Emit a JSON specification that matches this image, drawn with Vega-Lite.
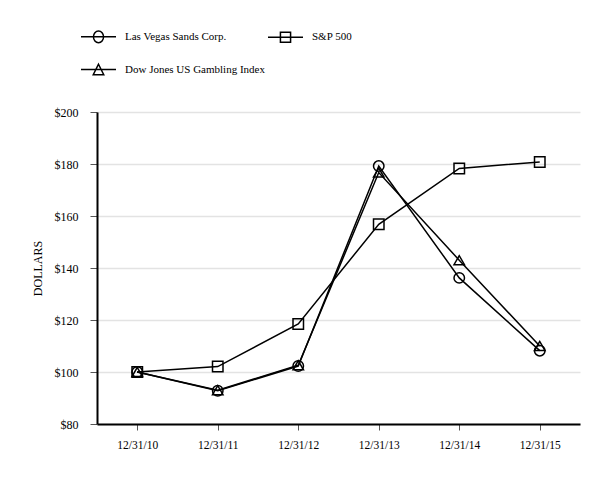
{
  "$schema": "https://vega.github.io/schema/vega-lite/v6.json",
  "autosize": {"type": "none"},
  "width": 483,
  "height": 312,
  "padding": {"left": 97, "top": 112, "right": 34, "bottom": 56},
  "background": "white",
  "config": {
    "view": {"stroke": null},
    "font": "Liberation Serif",
    "legend": {"labelFont": "Liberation Serif"}
  },
  "data": {
    "values": [
      {"date": "12/31/10", "series": "Las Vegas Sands Corp.", "value": 100},
      {"date": "12/31/11", "series": "Las Vegas Sands Corp.", "value": 92.8},
      {"date": "12/31/12", "series": "Las Vegas Sands Corp.", "value": 102.3},
      {"date": "12/31/13", "series": "Las Vegas Sands Corp.", "value": 179.2},
      {"date": "12/31/14", "series": "Las Vegas Sands Corp.", "value": 136.2},
      {"date": "12/31/15", "series": "Las Vegas Sands Corp.", "value": 108.2},
      {"date": "12/31/10", "series": "S&P 500", "value": 100},
      {"date": "12/31/11", "series": "S&P 500", "value": 102.1},
      {"date": "12/31/12", "series": "S&P 500", "value": 118.5},
      {"date": "12/31/13", "series": "S&P 500", "value": 156.8},
      {"date": "12/31/14", "series": "S&P 500", "value": 178.3},
      {"date": "12/31/15", "series": "S&P 500", "value": 180.8},
      {"date": "12/31/10", "series": "Dow Jones US Gambling Index", "value": 100},
      {"date": "12/31/11", "series": "Dow Jones US Gambling Index", "value": 93.0},
      {"date": "12/31/12", "series": "Dow Jones US Gambling Index", "value": 102.6},
      {"date": "12/31/13", "series": "Dow Jones US Gambling Index", "value": 176.7},
      {"date": "12/31/14", "series": "Dow Jones US Gambling Index", "value": 143.0},
      {"date": "12/31/15", "series": "Dow Jones US Gambling Index", "value": 110.0}
    ]
  },
  "encoding": {
    "x": {
      "field": "date",
      "type": "ordinal",
      "scale": {"type": "point", "padding": 0.5},
      "axis": {
        "title": null,
        "labelAngle": 0,
        "labelFont": "Liberation Serif",
        "labelFontSize": 11.5,
        "labelColor": "black",
        "labelPadding": 9,
        "domainColor": "black",
        "domainWidth": 2,
        "tickColor": "#555555",
        "tickSize": 6,
        "tickWidth": 1,
        "grid": false
      }
    },
    "y": {
      "field": "value",
      "type": "quantitative",
      "scale": {"domain": [80, 200], "nice": false, "zero": false},
      "axis": {
        "title": "DOLLARS",
        "titleFont": "Liberation Serif",
        "titleFontSize": 12,
        "titleFontWeight": "normal",
        "titleColor": "black",
        "titlePadding": 10,
        "values": [80, 100, 120, 140, 160, 180, 200],
        "format": "$.0f",
        "labelFont": "Liberation Serif",
        "labelFontSize": 12,
        "labelColor": "black",
        "labelPadding": 12,
        "domainColor": "black",
        "domainWidth": 2,
        "tickColor": "#555555",
        "tickSize": 7,
        "tickWidth": 1,
        "grid": true,
        "gridColor": "#e3e3e3",
        "gridWidth": 1.5
      }
    }
  },
  "layer": [
    {
      "mark": {"type": "line", "color": "black", "strokeWidth": 1.5},
      "encoding": {"detail": {"field": "series"}}
    },
    {
      "mark": {"type": "point", "filled": false, "color": "black", "strokeWidth": 1.5, "size": 110, "opacity": 1},
      "encoding": {
        "shape": {
          "field": "series",
          "type": "nominal",
          "scale": {
            "domain": ["Las Vegas Sands Corp.", "S&P 500", "Dow Jones US Gambling Index"],
            "range": ["circle", "square", "triangle-up"]
          },
          "legend": null
        }
      }
    },
    {
      "mark": {"type": "point", "filled": false, "color": "black", "strokeWidth": 1.5, "opacity": 0},
      "encoding": {
        "shape": {
          "field": "series",
          "type": "nominal",
          "scale": {
            "domain": ["Las Vegas Sands Corp.", "S&P 500", "Dow Jones US Gambling Index"],
            "range": [
              "M-1,0H1M0.29,0A0.29,0.33,0,1,1,-0.29,0A0.29,0.33,0,1,1,0.29,0",
              "M-1,0H1M-0.29,-0.29H0.29V0.29H-0.29Z",
              "M-1,0H1M0,-0.3L0.3,0.3H-0.3Z"
            ]
          },
          "legend": {
            "title": null,
            "orient": "none",
            "legendX": -17,
            "legendY": -94,
            "direction": "horizontal",
            "columns": 2,
            "columnPadding": 0,
            "rowPadding": 5,
            "padding": 0,
            "symbolSize": 1225,
            "symbolStrokeWidth": 1.5,
            "symbolStrokeColor": "black",
            "symbolFillColor": "transparent",
            "symbolOpacity": 1,
            "labelFont": "Liberation Serif",
            "labelFontSize": 11,
            "labelColor": "black",
            "labelOffset": 8,
            "labelLimit": 300
          }
        }
      }
    }
  ],
  "resolve": {"scale": {"shape": "independent"}}
}
